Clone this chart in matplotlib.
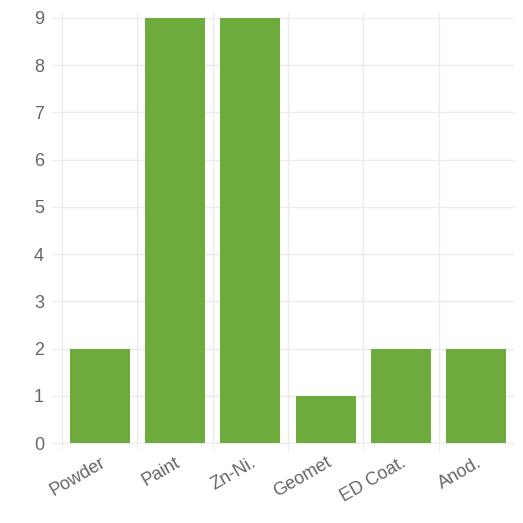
import numpy as np
import matplotlib.pyplot as plt
import matplotlib.transforms as mtrans
from matplotlib.ticker import FixedLocator

plt.rcParams['font.family'] = ['Liberation Sans', 'DejaVu Sans']

categories = ['Powder', 'Paint', 'Zn-Ni.', 'Geomet', 'ED Coat.', 'Anod.']
counts = [2, 9, 9, 1, 2, 2]

bar_color = '#6dab3c'
grid_color = '#ebebeb'
text_color = '#666666'

fig = plt.figure(figsize=(5.23, 5.23), dpi=100)
ax = fig.add_axes([62/523, 1 - 443/523, (514 - 62)/523, (443 - 18)/523])

x = np.arange(len(categories))
ax.bar(x, counts, width=0.8, color=bar_color, zorder=3)

ax.set_xlim(-0.5, len(categories) - 0.5)
ax.set_ylim(0, 9)
ax.set_yticks(range(0, 10))

# vertical grid lines between categories (no line at right edge)
bounds = np.arange(-0.5, len(categories) - 1, 1.0)
ax.xaxis.set_minor_locator(FixedLocator(bounds))
for b in bounds:
    ax.plot([b, b], [9, 9.1], color=grid_color, lw=1, clip_on=False, zorder=0)
ax.set_xticks(x)
ax.set_xticklabels(categories, rotation=30, ha='right', rotation_mode='anchor',
                   fontsize=13, color=text_color)
shift = mtrans.ScaledTranslation(-3/100, 0, fig.dpi_scale_trans)
for lbl in ax.get_xticklabels():
    lbl.set_transform(lbl.get_transform() + shift)
ax.tick_params(axis='x', which='major', length=0, pad=8)
ax.tick_params(axis='x', which='minor', length=6, color=grid_color)
ax.tick_params(axis='y', length=7, color=grid_color, labelsize=13,
               labelcolor=text_color, pad=6)

ax.grid(True, axis='y', color=grid_color, linewidth=1, zorder=0)
ax.grid(True, axis='x', which='minor', color=grid_color, linewidth=1, zorder=0)

for s in ['top', 'right']:
    ax.spines[s].set_visible(False)
for s in ['left', 'bottom']:
    ax.spines[s].set_color(grid_color)

fig.savefig('out.png', dpi=100)
